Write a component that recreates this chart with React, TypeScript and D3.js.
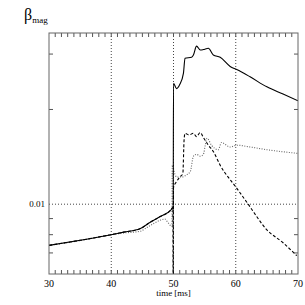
import * as d3 from "d3"

// tick labels and grid positions
const timeTicks = [30, 40, 50, 60, 70]
const gridTimes = [40, 50, 60]
const gridValues = [0.01]
const minorValues = [0.007, 0.008, 0.009, 0.02, 0.03]
const minorTimes = d3.range(31, 70)

// solid curve
const solidT = [30, 35, 40, 42, 44.6, 46, 47.8, 49.6, 49.95, 50.0, 50.5, 51.0, 51.6, 51.85, 52.9, 53.2, 53.7, 54.3, 54.8, 55.6, 56.4, 57.5, 59.1, 60.15, 62.3, 65.0, 67.6, 70]
const solidV = [0.0074, 0.00768, 0.008, 0.00815, 0.00835, 0.0087, 0.00912, 0.0096, 0.0098, 0.0242, 0.0233, 0.024, 0.0261, 0.0291, 0.0293, 0.0298, 0.0318, 0.0309, 0.031, 0.0313, 0.0298, 0.0293, 0.0274, 0.0268, 0.0254, 0.0236, 0.0224, 0.0213]

// dashed curve
const dashT = [30, 35, 40, 42, 44.6, 46, 47.8, 49.6, 49.9, 49.95, 50.0, 50.5, 51.0, 51.5, 51.7, 51.85, 52.5, 53.2, 53.7, 54.3, 54.8, 55.6, 56.4, 57.5, 60.15, 62.0, 65.0, 67.6, 69.8]
const dashV = [0.0074, 0.00768, 0.008, 0.00815, 0.00835, 0.0087, 0.00912, 0.0096, 0.0098, 0.004, 0.0113, 0.0118, 0.0122, 0.0125, 0.016, 0.0168, 0.0166, 0.0168, 0.0164, 0.0169, 0.0163, 0.0154, 0.0147, 0.0133, 0.01125, 0.01, 0.00829, 0.00754, 0.00686]

// dotted curve
const dotT = [30, 35, 40, 42, 44.6, 46, 47.8, 48.6, 49.1, 49.55, 49.75, 49.8, 50.2, 50.5, 51.3, 52.1, 52.7, 53.2, 53.7, 54.3, 54.8, 55.1, 55.4, 56.1, 57.2, 57.7, 59.1, 60.15, 62.3, 65.0, 70]
const dotV = [0.0074, 0.00766, 0.008, 0.0081, 0.0082, 0.0085, 0.00888, 0.00897, 0.00875, 0.00854, 0.0085, 0.0133, 0.0125, 0.0122, 0.0122, 0.0124, 0.0127, 0.0142, 0.0144, 0.0142, 0.0144, 0.0154, 0.0162, 0.0154, 0.0149, 0.0157, 0.0152, 0.0154, 0.0152, 0.0149, 0.0145]

const W = 305
const H = 305
const margin = { top: 33, right: 7, bottom: 31, left: 49 }
const font = "'Liberation Serif', 'DejaVu Serif', serif"

export default function App() {
  const x = d3.scaleLinear().domain([30, 70]).range([margin.left, W - margin.right])
  const y = d3.scaleLog().domain([0.006, 0.035]).range([H - margin.bottom, margin.top])
  const [x0, x1] = x.range()
  const [y0, y1] = y.range()

  const toPts = (ts: number[], vs: number[]) => ts.map((t, i) => [t, vs[i]] as [number, number])
  const line = d3
    .line<[number, number]>()
    .x((d) => x(d[0]))
    .y((d) => y(d[1]))
    .curve(d3.curveMonotoneX)

  const tickLen = 4

  return (
    <div style={{ position: "fixed", left: 0, top: 0 }}>
      <svg width={W} height={H} style={{ display: "block", background: "#fff" }}>
        <defs>
          <clipPath id="plot">
            <rect x={x0} y={y1} width={x1 - x0} height={y0 - y1} />
          </clipPath>
        </defs>

        {/* grid */}
        {gridTimes.map((t) => (
          <line key={"gx" + t} x1={x(t)} x2={x(t)} y1={y1} y2={y0} stroke="#444" strokeWidth={1} strokeDasharray="1,2" />
        ))}
        {gridValues.map((v) => (
          <line key={"gy" + v} x1={x0} x2={x1} y1={y(v)} y2={y(v)} stroke="#444" strokeWidth={1} strokeDasharray="1,2" />
        ))}

        {/* ticks */}
        {minorTimes.map((t) => (
          <g key={"tx" + t} stroke="#555" strokeWidth={1}>
            <line x1={x(t)} x2={x(t)} y1={y0} y2={y0 - tickLen} />
            <line x1={x(t)} x2={x(t)} y1={y1} y2={y1 + tickLen} />
          </g>
        ))}
        {minorValues.map((v) => (
          <g key={"ty" + v} stroke="#555" strokeWidth={1}>
            <line x1={x0} x2={x0 + tickLen} y1={y(v)} y2={y(v)} />
            <line x1={x1} x2={x1 - tickLen} y1={y(v)} y2={y(v)} />
          </g>
        ))}

        {/* curves */}
        <g clipPath="url(#plot)" fill="none">
          <path d={line(toPts(dotT, dotV)) || ""} stroke="#666" strokeWidth={1.1} strokeDasharray="1,1.5" />
          <path d={line(toPts(dashT, dashV)) || ""} stroke="#000" strokeWidth={1.1} strokeDasharray="3,2" />
          <path d={line(toPts(solidT, solidV)) || ""} stroke="#000" strokeWidth={1.1} />
        </g>

        {/* frame */}
        <rect x={x0} y={y1} width={x1 - x0} height={y0 - y1} fill="none" stroke="#666" strokeWidth={1} />

        {/* labels */}
        {timeTicks.map((t) => (
          <text key={"lx" + t} x={x(t)} y={y0 + 13} textAnchor="middle" fontFamily={font} fontSize={10}>
            {t}
          </text>
        ))}
        {gridValues.map((v) => (
          <text key={"ly" + v} x={x0 - 4} y={y(v) + 3} textAnchor="end" fontFamily={font} fontSize={9}>
            {v}
          </text>
        ))}
        <text x={x(50)} y={y0 + 22} textAnchor="middle" fontFamily={font} fontSize={9}>
          time [ms]
        </text>
        <text x={24} y={20} fontFamily={font} fontSize={16}>
          β
          <tspan fontSize={9} dy={3}>
            mag
          </tspan>
        </text>
      </svg>
    </div>
  )
}
